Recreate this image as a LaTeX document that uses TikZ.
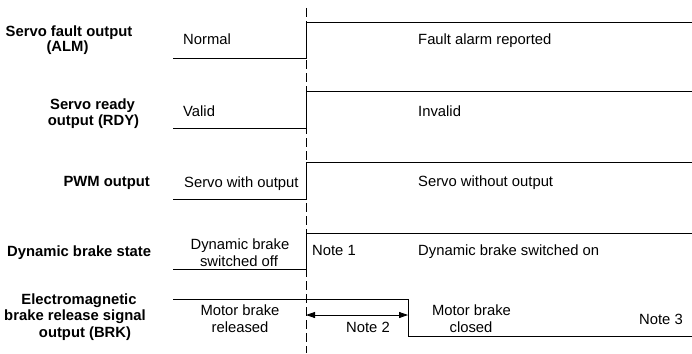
\documentclass[tikz,border=0pt]{standalone}
\usepackage{fontspec}
\setmainfont{Liberation Sans}
\usetikzlibrary{arrows.meta}
\begin{document}
\begin{tikzpicture}[x=1pt,y=-1pt,
  txt/.style={inner sep=0pt,font=\fontsize{14.8}{16.6}\selectfont},
  lbl/.style={txt,font=\fontsize{14.8}{16.6}\selectfont\bfseries},
  wave/.style={line width=0.9pt,black},
  guide/.style={line width=0.9pt,black,dash pattern=on 9pt off 4pt},
  dim/.style={line width=0.8pt,{Triangle[length=9pt,width=6pt]}-{Triangle[length=9pt,width=6pt]}}]
\useasboundingbox (0,0) rectangle (692,353);
% guide line
\coordinate (gtop) at (306,8);
\coordinate (gbot) at (306,353);
\draw[guide] (gtop) -- (gbot);
% waveforms
\draw[wave] (173,58) -- (306,58) -- (306,22) -- (692,22);
\draw[wave] (173,128) -- (306,128) -- (306,91) -- (692,91);
\draw[wave] (173,199) -- (306,199) -- (306,162) -- (692,162);
\draw[wave] (173,269) -- (306,269) -- (306,233) -- (692,233);
\draw[wave] (173,299) -- (408,299) -- (408,336) -- (692,336);
% dimension arrow
\coordinate (dA) at (306,315);
\coordinate (dB) at (408,315);
\draw[dim] (dA) -- (dB);
% row labels
\node[lbl,anchor=base] (alm1) at (69,36.5) {Servo fault output};
\node[lbl,anchor=base] (alm2) at (67.5,52) {(ALM)};
\node[lbl,anchor=base] (rdy1) at (92.5,109) {Servo ready};
\node[lbl,anchor=base] (rdy2) at (93.5,125.5) {output (RDY)};
\node[lbl,anchor=base east] (pwm) at (150,186.7) {PWM output};
\node[lbl,anchor=base west] (dbs) at (7,256.6) {Dynamic brake state};
\node[lbl,anchor=base] (brk1) at (79,304) {Electromagnetic};
\node[lbl,anchor=base] (brk2) at (75,320.6) {brake release signal};
\node[lbl,anchor=base] (brk3) at (85,337.2) {output (BRK)};
% state texts
\node[txt,anchor=base west] (normal) at (183,45) {Normal};
\node[txt,anchor=base west] (fault) at (418,45) {Fault alarm reported};
\node[txt,anchor=base west] (valid) at (183,116.5) {Valid};
\node[txt,anchor=base west] (invalid) at (418,116.5) {Invalid};
\node[txt,anchor=base west] (swo) at (184,187) {Servo with output};
\node[txt,anchor=base west] (swoo) at (418,186) {Servo without output};
\node[txt,anchor=base] (dbo1) at (240,249) {Dynamic brake};
\node[txt,anchor=base] (dbo2) at (239,266) {switched off};
\node[txt,anchor=base west] (note1) at (312,255) {Note 1};
\node[txt,anchor=base west] (dbon) at (418,255.6) {Dynamic brake switched on};
\node[txt,anchor=base] (mbr1) at (240,315.6) {Motor brake};
\node[txt,anchor=base] (mbr2) at (240,332) {released};
\node[txt,anchor=base] (note2) at (368,332) {Note 2};
\node[txt,anchor=base] (mbc1) at (471.5,315.6) {Motor brake};
\node[txt,anchor=base] (mbc2) at (471,332) {closed};
\node[txt,anchor=base] (note3) at (661,324) {Note 3};
\end{tikzpicture}
\end{document}
